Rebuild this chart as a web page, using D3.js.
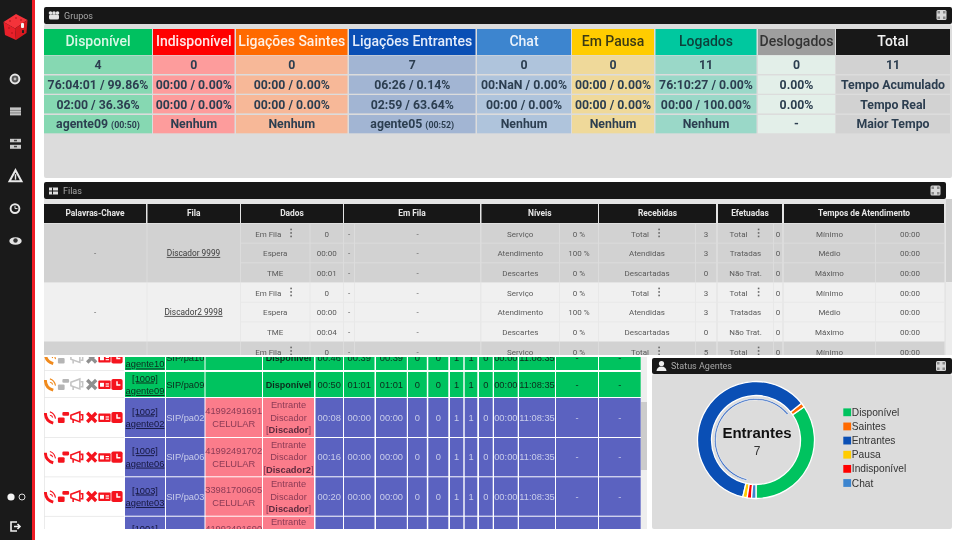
<!DOCTYPE html>
<html lang="pt">
<head>
<meta charset="utf-8">
<title>Painel de agentes</title>
<script src="https://d3js.org/d3.v7.min.js"></script>
<style>
body { margin: 0; background: #fff; overflow: hidden; }
svg { display: block; filter: blur(0.5px); }
text { font-family: Roboto, sans-serif; }
.ag text, .legend text, .center text { font-family: "Liberation Sans", Arial, sans-serif; }
</style>
</head>
<body>
<script>
// grupos
const groupNames = ["Disponível", "Indisponível", "Ligações Saintes", "Ligações Entrantes", "Chat", "Em Pausa", "Logados", "Deslogados", "Total"];
const groupCounts = ["4", "0", "0", "7", "0", "0", "11", "0", "11"];
const groupAcum = ["76:04:01 / 99.86%", "00:00 / 0.00%", "00:00 / 0.00%", "06:26 / 0.14%", "00:NaN / 0.00%", "00:00 / 0.00%", "76:10:27 / 0.00%", "0.00%", "Tempo Acumulado"];
const groupReal = ["02:00 / 36.36%", "00:00 / 0.00%", "00:00 / 0.00%", "02:59 / 63.64%", "00:00 / 0.00%", "00:00 / 0.00%", "00:00 / 100.00%", "0.00%", "Tempo Real"];
const groupMaior = ["agente09", "Nenhum", "Nenhum", "agente05", "Nenhum", "Nenhum", "Nenhum", "-", "Maior Tempo"];
const groupMaiorTempo = ["(00:50)", "", "", "(00:52)", "", "", "", "", ""];

// filas
const queueHeaders = ["Palavras-Chave", "Fila", "Dados", "Em Fila", "Níveis", "Recebidas", "Efetuadas", "Tempos de Atendimento"];
const queueKeywords = ["-", "-", "-"];
const queueNames = ["Discador 9999", "Discador2 9998", ""];
const dadosLabels = ["Em Fila", "Espera", "TME"];
const dadosValues = [["0", "00:00", "00:01"], ["0", "00:00", "00:04"], ["0", "00:00", "00:00"]];
const nivelLabels = ["Serviço", "Atendimento", "Descartes"];
const nivelValues = [["0 %", "100 %", "0 %"], ["0 %", "100 %", "0 %"], ["0 %", "100 %", "0 %"]];
const recebLabels = ["Total", "Atendidas", "Descartadas"];
const recebValues = [["3", "3", "0"], ["3", "3", "0"], ["5", "5", "0"]];
const efetLabels = ["Total", "Tratadas", "Não Trat."];
const efetValues = [["0", "0", "0"], ["0", "0", "0"], ["0", "0", "0"]];
const tempoLabels = ["Mínimo", "Médio", "Máximo"];
const tempoValues = [["00:00", "00:00", "00:00"], ["00:00", "00:00", "00:00"], ["00:00", "00:00", "00:00"]];

// agentes
const agentRamal = ["[1010]", "[1009]", "[1002]", "[1006]", "[1003]", "[1001]"];
const agentNome = ["agente10", "agente09", "agente02", "agente06", "agente03", "agente01"];
const agentSip = ["SIP/pa10", "SIP/pa09", "SIP/pa02", "SIP/pa06", "SIP/pa03", "SIP/pa01"];
const agentNumero = ["", "", "41992491691", "41992491702", "33981700605", "41992491690"];
const agentTipo = ["", "", "CELULAR", "CELULAR", "CELULAR", "CELULAR"];
const agentEstado = ["Disponível", "Disponível", "Entrante", "Entrante", "Entrante", "Entrante"];
const agentFila = ["", "", "Discador", "Discador2", "Discador", "Discador"];
const agentT1 = ["00:46", "00:50", "00:08", "00:16", "00:20", "00:24"];
const agentT2 = ["00:39", "01:01", "00:00", "00:00", "00:00", "00:00"];
const agentT3 = ["00:39", "01:01", "00:00", "00:00", "00:00", "00:00"];
const agentC1 = ["0", "0", "0", "0", "0", "0"];
const agentC2 = ["0", "0", "0", "0", "0", "0"];
const agentC3 = ["1", "1", "1", "1", "1", "1"];
const agentC4 = ["1", "1", "1", "1", "1", "1"];
const agentC5 = ["0", "0", "0", "0", "0", "0"];
const agentT4 = ["00:00", "00:00", "00:00", "00:00", "00:00", "00:00"];
const agentHora = ["11:08:35", "11:08:35", "11:08:35", "11:08:35", "11:08:35", "11:08:35"];
const agentD1 = ["-", "-", "-", "-", "-", "-"];
const agentD2 = ["-", "-", "-", "-", "-", "-"];

// status agentes: contagens e fatias como aparecem na rosca
const statusLabels = ["Disponível", "Saintes", "Entrantes", "Pausa", "Indisponível", "Chat"];
const statusValues = [4, 0, 7, 0, 0, 0];
const statusSlices = [4, 0.14, 7, 0.14, 0.14, 0.14];

const statusColors = ["#00c35f", "#ff6a00", "#0a4fb5", "#ffcc00", "#ff0000", "#3d85cf"];

const w = 960, h = 540;
const svg = d3.select("body").append("svg").attr("width", w).attr("height", h);
const defs = svg.append("defs");
defs.append("clipPath").attr("id", "clipFilas").append("rect").attr("x", 40).attr("y", 180).attr("width", 915).attr("height", 175);
defs.append("clipPath").attr("id", "clipAg").append("rect").attr("x", 44).attr("y", 357).attr("width", 604).attr("height", 172);

function box(g, x0, y0, x1, y1, fill, r) {
  return g.append("rect").attr("x", x0).attr("y", y0).attr("width", x1 - x0).attr("height", y1 - y0).attr("fill", fill).attr("rx", r || 0);
}
function label(g, x, y, str, size, fill, weight, anchor) {
  return g.append("text").attr("x", x).attr("y", y).attr("dy", "0.35em")
    .attr("text-anchor", anchor || "middle").attr("font-size", size).attr("fill", fill)
    .attr("font-weight", weight || 400).text(str);
}
function expandIcon(x, y) {
  const g = svg.append("g").attr("transform", `translate(${x},${y})`);
  box(g, -5, -5, 5, 5, "#d8d8d8", 1.5);
  g.selectAll("rect.c").data([[-4, -4], [1.5, -4], [-4, 1.5], [1.5, 1.5]]).enter().append("rect")
    .attr("x", d => d[0]).attr("y", d => d[1]).attr("width", 2.5).attr("height", 2.5).attr("fill", "#8a8a8a");
}
function panelHeader(x0, y0, x1, y1, title, tx) {
  box(svg, x0, y0, x1, y1, "#171717", 2);
  label(svg, tx, (y0 + y1) / 2, title, 9, "#a8a8a8", 400, "start");
}

// ---- barra lateral ----
box(svg, 0, 0, 32, h, "#1a1a1a");
box(svg, 32, 0, 35, h, "#ee1c25");
const logo = svg.append("g");
[["3.5,22 16,14 27.5,20 15,28.5", "#f4333a"], ["3.5,22 15,28.5 16,40 5,35", "#e8202a"], ["15,28.5 27.5,20 26.5,33 16,40", "#d81a20"]].forEach(p => {
  logo.append("polygon").attr("points", p[0]).attr("fill", p[1]);
});
box(logo, 21, 23, 24, 28, "#f4f4f4", 1);
box(logo, 22, 30, 24, 33, "#222", 0.5);
logo.selectAll("circle").data([[10, 21], [16, 18], [21, 20], [9, 28], [12, 33]]).enter().append("circle")
  .attr("cx", d => d[0]).attr("cy", d => d[1]).attr("r", 0.8).attr("fill", "#a81218");

const navY = d3.scalePoint().domain(d3.range(6)).range([79, 241]);
svg.append("circle").attr("cx", 15).attr("cy", navY(0)).attr("r", 4.4).attr("fill", "#555").attr("stroke", "#e8e8e8").attr("stroke-width", 2);
svg.append("circle").attr("cx", 15).attr("cy", navY(0)).attr("r", 1.4).attr("fill", "#bbb");
box(svg, 10, navY(1) - 4, 21, navY(1) + 4, "#c4c4c4");
box(svg, 10, navY(1) - 1.5, 21, navY(1) - 0.8, "#666");
box(svg, 10, navY(1) + 1.2, 21, navY(1) + 1.9, "#666");
box(svg, 10, navY(2) - 5, 21, navY(2) - 1.5, "#c8c8c8");
box(svg, 10, navY(2) + 1, 21, navY(2) + 5, "#c8c8c8");
box(svg, 14, navY(2) - 4, 17, navY(2) - 2.5, "#444");
box(svg, 14, navY(2) + 2, 17, navY(2) + 3.5, "#444");
svg.append("path").attr("d", `M15.5,${navY(3) - 6}L21.5,${navY(3) + 5}H9.5Z`).attr("fill", "none").attr("stroke", "#e8e8e8").attr("stroke-width", 2);
box(svg, 14.8, navY(3) - 2, 16.2, navY(3) + 3.5, "#e8e8e8");
svg.append("circle").attr("cx", 15).attr("cy", navY(4)).attr("r", 4.4).attr("fill", "none").attr("stroke", "#e8e8e8").attr("stroke-width", 1.9);
svg.append("path").attr("d", `M15,${navY(4) - 2.5}V${navY(4)}H17.5`).attr("fill", "none").attr("stroke", "#e8e8e8").attr("stroke-width", 1);
svg.append("ellipse").attr("cx", 15.5).attr("cy", navY(5)).attr("rx", 6.2).attr("ry", 3.8).attr("fill", "#e4e4e4");
svg.append("circle").attr("cx", 15.5).attr("cy", navY(5) - 0.5).attr("r", 2.2).attr("fill", "#333");
svg.append("circle").attr("cx", 11).attr("cy", 497).attr("r", 3.6).attr("fill", "#f4f4f4");
svg.append("circle").attr("cx", 22).attr("cy", 497).attr("r", 3).attr("fill", "none").attr("stroke", "#ddd");
svg.append("path").attr("d", "M17,522H11V531H17").attr("fill", "none").attr("stroke", "#f0f0f0").attr("stroke-width", 1.6);
svg.append("path").attr("d", "M14,526.5H19M17.5,524L20,526.5L17.5,529").attr("fill", "none").attr("stroke", "#f0f0f0").attr("stroke-width", 1.6);

// ---- grupos ----
box(svg, 44, 24, 952, 178, "#dcdcdc", 2);
panelHeader(44, 7, 952, 24, "Grupos", 64);
svg.selectAll("circle.user").data([50.5, 54, 57.5]).enter().append("circle").attr("class", "user")
  .attr("cx", d => d).attr("cy", 13).attr("r", 1.8).attr("fill", "#e4e4e4");
box(svg, 49, 14.5, 59, 19.5, "#e4e4e4", 1.5);
expandIcon(941.5, 15);

const groupX0 = [44, 153, 236, 349, 477, 572, 655.5, 758, 836];
const groupX1 = [152, 234.5, 347.5, 475.5, 571, 654, 756.5, 835, 950];
const groupHead = ["#00c160", "#ff0000", "#ff6a00", "#0a4fb5", "#3d85cf", "#ffcc00", "#00c89f", "#9e9e9e", "#181818"];
const groupHeadText = ["#d9f7e6", "#ffe9e9", "#fff0e4", "#e4ecfa", "#eaf2fb", "#3b3a14", "#0d3f3a", "#333", "#f2f2f2"];
const groupLight = ["#86d8b2", "#fd9c9c", "#f7b898", "#a2b5d3", "#afc4dc", "#efd99a", "#9ad8c8", "#e3efe9", "#d2d2d2"];
const groupRowY0 = [55.5, 75.5, 95, 115];
const groupRowY1 = [74, 93.7, 113.4, 133.3];
const groupRows = [groupCounts, groupAcum, groupReal, groupMaior];
const darkText = "#2c3e50";

groupNames.forEach((name, i) => {
  const cx = (groupX0[i] + groupX1[i]) / 2;
  box(svg, groupX0[i], 29, groupX1[i], 55, groupHead[i]);
  label(svg, cx, 41.5, name, 14, groupHeadText[i], 500);
  groupRows.forEach((row, r) => {
    box(svg, groupX0[i], groupRowY0[r], groupX1[i], groupRowY1[r], groupLight[i]);
    const t = label(svg, cx, (groupRowY0[r] + groupRowY1[r]) / 2, row[i], 12.3, darkText, 700);
    if (r === 3 && groupMaiorTempo[i]) {
      t.append("tspan").attr("font-size", 8.8).attr("dx", 3).text(groupMaiorTempo[i]);
    }
  });
});

// ---- filas ----
const filas = svg.append("g").attr("clip-path", "url(#clipFilas)");
box(filas, 44, 199, 952, 360, "#e4e4e4");
box(filas, 946, 199, 952, 360, "#ececec");
box(filas, 946, 199, 952, 282, "#cfcfcf");
box(filas, 44, 182, 946, 199, "#171717", 2);
label(filas, 63, 191, "Filas", 9, "#a8a8a8", 400, "start");
box(filas, 49, 187.5, 58, 194.5, "#e0e0e0");
box(filas, 52, 187.5, 53, 194.5, "#171717");
box(filas, 49, 190.5, 58, 191.5, "#171717");
expandIcon(935.5, 190.5);

const headX0 = [44, 147.5, 241, 344, 481.5, 599, 718, 784];
const headX1 = [146, 240, 343, 480, 598, 716, 782, 944];
queueHeaders.forEach((name, i) => {
  box(filas, headX0[i], 204, headX1[i], 223, "#171717");
  label(filas, (headX0[i] + headX1[i]) / 2, 213, name, 8.4, "#e6e6e6", 700);
});

const rowY = d3.scaleLinear().domain([0, 1]).range([224, 243.67]);
const cellText = "#5a5a5a";
// sub colunas das filas: [x0, x1, texto da linha r do grupo g, posicao do menu]
const queueCols = [
  [241, 309.5, (g, r) => dadosLabels[r], 291],
  [310.5, 343, (g, r) => dadosValues[g][r]],
  [344, 354, () => "-"],
  [355, 480, () => "-"],
  [481.5, 559, (g, r) => nivelLabels[r]],
  [560, 598, (g, r) => nivelValues[g][r]],
  [599, 695, (g, r) => recebLabels[r], 659],
  [696, 716, (g, r) => recebValues[g][r]],
  [718, 773, (g, r) => efetLabels[r], 758.5],
  [774, 782, (g, r) => efetValues[g][r]],
  [784, 875, (g, r) => tempoLabels[r]],
  [876, 944, (g, r) => tempoValues[g][r]]
];
queueNames.forEach((name, g) => {
  const y0 = rowY(g * 3), y1 = rowY(g * 3 + 3) - 1;
  const fill = g % 2 === 0 ? "#d2d2d2" : "#f0f0f0";
  const band = g % 2 === 0 ? "#dcdcdc" : "#e8e8e8";
  box(filas, 44, y0 - 0.5, 945, y1 + 0.5, band);
  box(filas, 44, y0, 146.5, y1, fill);
  box(filas, 147.5, y0, 240, y1, fill);
  // a terceira fila fica quase toda atras do painel de agentes
  if ((y0 + y1) / 2 < 355) {
    label(filas, 95, (y0 + y1) / 2, queueKeywords[g], 8, cellText);
    label(filas, 193.5, (y0 + y1) / 2, name, 8.3, "#3a3a3a").attr("text-decoration", "underline");
  }
  d3.range(3).forEach(r => {
    const ry0 = rowY(g * 3 + r), ry1 = rowY(g * 3 + r + 1) - 1;
    if (ry0 > 355) return;
    queueCols.forEach(c => {
      box(filas, c[0], ry0, c[1], ry1, fill);
      const mx = c[3] && r === 0 ? -7 : 0;
      label(filas, (c[0] + c[1]) / 2 + mx, (ry0 + ry1) / 2 + 0.5, c[2](g, r), 8, cellText);
      if (c[3] && r === 0) {
        filas.selectAll(null).data([-3.5, 0, 3.5]).enter().append("rect")
          .attr("x", c[3] - 0.7).attr("y", d => (ry0 + ry1) / 2 - 1.2 + d).attr("width", 1.6).attr("height", 1.6).attr("fill", "#666");
      }
    });
  });
});

// ---- agentes ----
const ag = svg.append("g").attr("class", "ag").attr("clip-path", "url(#clipAg)");
box(svg, 44, 357, 648, 529, "#ffffff").lower();
box(ag, 641, 357, 647, 529, "#eeeeee");
box(ag, 641, 402, 647, 470, "#cccccc");
box(ag, 44, 357, 44.7, 529, "#e2e2e2");

const agentY0 = [346, 372, 398, 438, 477.3, 516.7];
const agentY1 = [370, 397, 437, 476.3, 515.7, 553];
const agentCols = [
  [125, 165], [166, 204.5], [205.5, 262], [263, 314], [315.5, 343], [344, 374.5], [376, 406.8], [408, 426.8],
  [428.3, 448.3], [450, 463.3], [464.7, 477.3], [479, 492.7], [494, 517.7], [519, 555], [556, 598], [599, 640.7]
];
const green = "#00c35f", purple = "#5b62c0", pink = "#fb7c8b";

function phoneIcon(g, c) {
  g.append("path").attr("d", "M-5,-4Q-5,3 2,5").attr("fill", "none").attr("stroke", c).attr("stroke-width", 2.6);
  g.append("path").attr("d", "M-1,-5Q3,-4 4,1M-1,-2Q1,-2 1.5,0").attr("fill", "none").attr("stroke", c).attr("stroke-width", 1);
}
function hangIcon(g, c) {
  box(g, -5, 0, 1, 5, c, 1);
  box(g, -1, -5, 5, -1.5, c, 1);
}
function megaIcon(g, c) {
  g.append("path").attr("d", "M-5,-2L3,-5V4L-5,1Z").attr("fill", "none").attr("stroke", c).attr("stroke-width", 1.4);
  g.append("path").attr("d", "M-3,2V5M3.5,-2.5H5.5V2H3.5").attr("fill", "none").attr("stroke", c).attr("stroke-width", 1.4);
}
function crossIcon(g, c) {
  g.append("path").attr("d", "M-4,-4L4,4M4,-4L-4,4").attr("fill", "none").attr("stroke", c).attr("stroke-width", 3);
}
function cardIcon(g, c) {
  box(g, -5.5, -3.5, 5.5, 4, c, 0.8);
  box(g, -4, -1.5, -0.5, 2, "#fff");
  box(g, 1, -1, 4, 0, "#fff");
  box(g, 1, 1, 4, 2, "#fff");
}
function clockIcon(g, c) {
  box(g, -5, -5, 5, 5, c, 1.6);
  g.append("path").attr("d", "M0,-3V0.5H3").attr("fill", "none").attr("stroke", "#fff").attr("stroke-width", 1.3);
}
const iconFns = [phoneIcon, hangIcon, megaIcon, crossIcon, cardIcon, clockIcon];
const iconX = d3.scaleOrdinal().domain(d3.range(6)).range([51, 63.5, 76.5, 91.7, 104.5, 117]);

// so escreve o que aparece dentro do recorte do painel
function agLabel(x, y, str, size, fill, weight) {
  if (y < 352 || y > 533) return null;
  return label(ag, x, y, str, size, fill, weight);
}

agentRamal.forEach((ramal, i) => {
  const y0 = agentY0[i], y1 = agentY1[i], cy = (y0 + y1) / 2;
  const busy = agentEstado[i] !== "Disponível";
  const bg = busy ? purple : green;
  const fg = busy ? "#c9cdea" : "#0b2b1c";
  const vals = [null, agentSip[i], null, null, agentT1[i], agentT2[i], agentT3[i], agentC1[i], agentC2[i], agentC3[i], agentC4[i], agentC5[i], agentT4[i], agentHora[i], agentD1[i], agentD2[i]];
  agentCols.forEach((c, k) => {
    const pinkCell = busy && (k === 2 || k === 3);
    box(ag, c[0], y0, c[1], y1, pinkCell ? pink : bg);
    if (vals[k] !== null) {
      agLabel((c[0] + c[1]) / 2, cy, vals[k], 9.3, fg);
    }
  });
  box(ag, 44, y1 + 0.2, 124, y1 + 1, "#e6e6e6");
  // ramal
  const ramalFg = busy ? "#14163d" : "#0b2b1c";
  const r1 = agLabel(145, cy - 6.2, ramal, 9.3, ramalFg);
  const r2 = agLabel(145, cy + 6.2, agentNome[i], 9.3, ramalFg);
  if (r1) r1.attr("text-decoration", "underline");
  if (r2) r2.attr("text-decoration", "underline");
  // numero e estado
  if (busy) {
    agLabel(233.7, cy - 6.3, agentNumero[i], 9.3, "#8b3a55");
    agLabel(233.7, cy + 6.3, agentTipo[i], 9.3, "#8b3a55");
    agLabel(288.5, cy - 12.7, agentEstado[i], 9.3, "#8b3a55");
    agLabel(288.5, cy, "Discador", 9.3, "#8b3a55");
    const t = agLabel(288.5, cy + 12.7, "[", 9.3, "#8b3a55");
    if (t) {
      t.append("tspan").attr("font-weight", 700).attr("fill", "#5e2a3e").text(agentFila[i]);
      t.append("tspan").text("]");
    }
  } else {
    agLabel(288.5, cy, agentEstado[i], 9, "#0b2b1c", 700);
  }
  // acoes: os icones da ultima linha ficam abaixo do recorte
  if (cy > 530) return;
  const colors = busy ? d3.range(6).map(() => "#f5141e") : ["#f08a1d", "#b5b5b5", "#c4c4c4", "#8f8f8f", "#f5141e", "#f5141e"];
  iconFns.forEach((fn, k) => {
    fn(ag.append("g").attr("transform", `translate(${iconX(k)},${cy}) scale(1.12)`), colors[k]);
  });
});

// ---- status agentes ----
box(svg, 652, 374, 952, 529, "#dcdcdc", 2);
panelHeader(652, 358, 952, 374, "Status Agentes", 671);
svg.append("circle").attr("cx", 661.5).attr("cy", 363.5).attr("r", 2.6).attr("fill", "#eee");
svg.append("path").attr("d", "M656.5,371Q657,366.5 661.5,366.5Q666,366.5 666.5,371Z").attr("fill", "#eee");
expandIcon(941, 366);

const cx = 756, cy = 440;
const pie = d3.pie().sort(null).value(d => d).startAngle(Math.PI).endAngle(-Math.PI);
const arcs = pie(statusSlices);
const ring = d3.arc().innerRadius(44.5).outerRadius(58.5);
const donut = svg.append("g").attr("transform", `translate(${cx},${cy})`);
donut.selectAll("path.slice").data(arcs).enter().append("path")
  .attr("class", "slice")
  .attr("d", ring)
  .attr("fill", (d, i) => statusColors[i])
  .attr("stroke", "#fff")
  .attr("stroke-width", 1.3);
const sel = statusValues.indexOf(d3.max(statusValues));
donut.append("path")
  .attr("d", d3.arc().innerRadius(40).outerRadius(41.6)(arcs[sel]))
  .attr("fill", "#3a6cc2").attr("stroke", "#fff").attr("stroke-width", 0.6);

const center = svg.append("g").attr("class", "center");
label(center, 757, 433, statusLabels[sel], 15, "#111", 700);
label(center, 757, 451, statusValues[sel], 12, "#333");

const legendY = d3.scalePoint().domain(statusLabels).range([412.3, 483]);
const legend = svg.append("g").attr("class", "legend");
const items = legend.selectAll("g").data(statusLabels).enter().append("g")
  .attr("transform", d => `translate(843.3,${legendY(d)})`);
items.append("rect").attr("y", -3.9).attr("width", 7.8).attr("height", 7.8)
  .attr("fill", (d, i) => statusColors[i]);
items.append("text").attr("x", 8.5).attr("dy", "0.35em").attr("font-size", 10.2).attr("fill", "#333").text(d => d);
</script>
</body>
</html>
